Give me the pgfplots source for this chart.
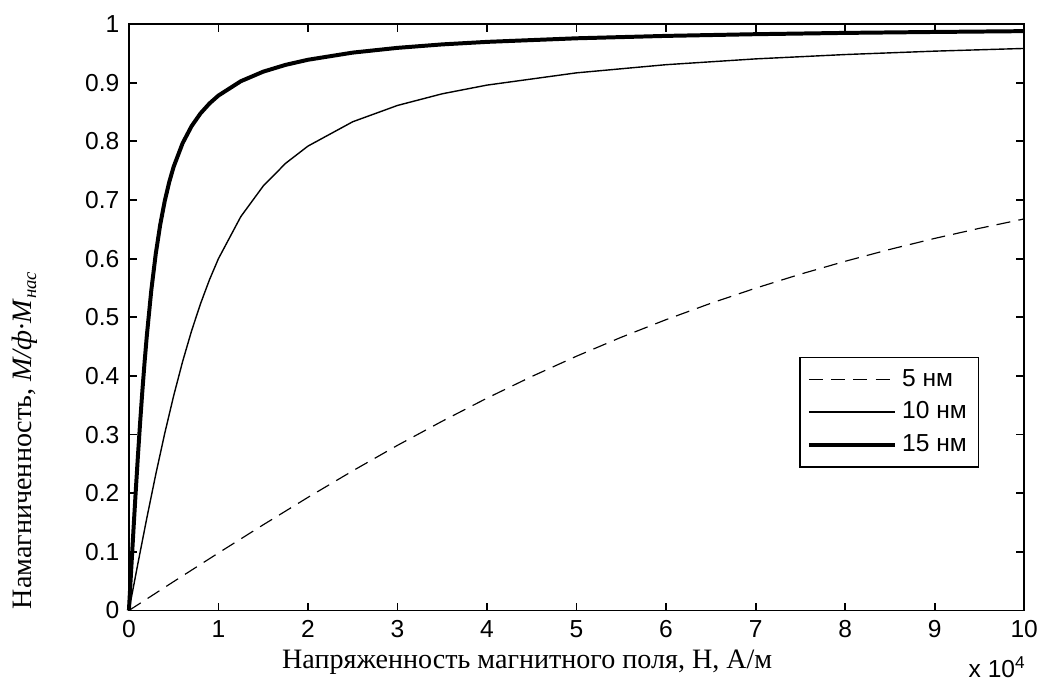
\documentclass[border=0pt]{standalone}
\usepackage{fontspec}
\setmainfont{Liberation Serif}
\setsansfont{Liberation Sans}
\usepackage{pgfplots}
\pgfplotsset{compat=1.18}

\begin{document}
\begin{tikzpicture}
\begin{axis}[
    scale only axis,
    width=13.44cm, height=8.805cm,
    xmin=0, xmax=10, ymin=0, ymax=1,
    xtick={0,1,2,3,4,5,6,7,8,9,10},
    ytick={0,0.1,0.2,0.3,0.4,0.5,0.6,0.7,0.8,0.9,1},
    tick align=inside,
    major tick length=0.12cm,
    axis line style={line width=0.8pt},
    every tick/.style={black, line width=0.8pt},
    ticklabel style={font=\sffamily\fontsize{10.5}{12}\selectfont, inner sep=0.5pt},
    /pgf/number format/assume math mode=true,
    xticklabel style={yshift=-0.12cm},
    yticklabel style={xshift=-0.12cm},
    clip=false,
    xlabel={Напряженность магнитного поля, H, А/м},
    xlabel style={font=\fontsize{12}{14}\selectfont, inner sep=1pt, xshift=-0.74cm, yshift=-0.12cm},
    ylabel={Намагниченность, \textit{M/ф·M}\textsubscript{\textit{нас}}},
    ylabel style={font=\fontsize{12}{14}\selectfont, inner sep=0pt,
        at={(axis description cs:-0.116,0.291)}, anchor=center},
    legend style={at={(axis description cs:0.95,0.433)}, anchor=north east,
        draw=black, line width=0.8pt, fill=white,
        font=\sffamily\fontsize{10.5}{12}\selectfont,
        row sep=1.2pt, inner xsep=3pt, inner ysep=3pt},
    legend cell align=left,
    legend image code/.code={\draw[#1] (0cm,0cm) -- (1.3cm,0cm);},
]
% 5 nm
\addplot[black, line width=0.5pt, dash pattern=on 6pt off 3.5pt] coordinates {
(0,0) (0.5,0.0493) (1,0.0981) (1.5,0.1461) (2,0.1929) (2.5,0.2381)
(3,0.2816) (3.5,0.3228) (4,0.3621) (4.5,0.3990) (5,0.4336) (5.5,0.4659)
(6,0.4959) (6.5,0.5238) (7,0.5496) (7.5,0.5734) (8,0.5954) (8.5,0.6157)
(9,0.6344) (9.5,0.6516) (10,0.6676)
};
\addlegendentry{5 нм}
% 10 nm
\addplot[black, line width=0.6pt] coordinates {
(0,0) (0.1,0.0797) (0.2,0.1576) (0.3,0.2321) (0.4,0.3019) (0.5,0.3662)
(0.6,0.4246) (0.7,0.4768) (0.8,0.5231) (0.9,0.5640) (1.0,0.5999)
(1.25,0.6716) (1.5,0.7237) (1.75,0.7624) (2,0.7918) (2.5,0.8333)
(3,0.8611) (3.5,0.8810) (4,0.8958) (5,0.9167) (6,0.9306) (7,0.9405)
(8,0.9479) (9,0.9537) (10,0.9583)
};
\addlegendentry{10 нм}
% 15 nm
\addplot[black, line width=1.7pt] coordinates {
(0,0) (0.02,0.0546) (0.05,0.1352) (0.075,0.2000) (0.1,0.2619) (0.125,0.3199)
(0.15,0.3739) (0.175,0.4233) (0.2,0.4684) (0.25,0.5459) (0.3,0.6082)
(0.35,0.6581) (0.4,0.6979) (0.45,0.7303) (0.5,0.7567) (0.6,0.7968)
(0.7,0.8258) (0.8,0.8476) (0.9,0.8645) (1.0,0.8780) (1.25,0.9024)
(1.5,0.9187) (1.75,0.9303) (2,0.9390) (2.5,0.9512) (3,0.9593) (3.5,0.9652)
(4,0.9695) (5,0.9756) (6,0.9797) (7,0.9826) (8,0.9848) (9,0.9864) (10,0.9878)
};
\addlegendentry{15 нм}
\node[font=\sffamily\fontsize{10.5}{12}\selectfont, inner sep=0.5pt] at (rel axis cs:0.97,-0.097) {x 10\textsuperscript{4}};
\path (rel axis cs:-0.144,-0.121) rectangle (rel axis cs:1.0156,1.0409);
\end{axis}
\end{tikzpicture}
\end{document}
